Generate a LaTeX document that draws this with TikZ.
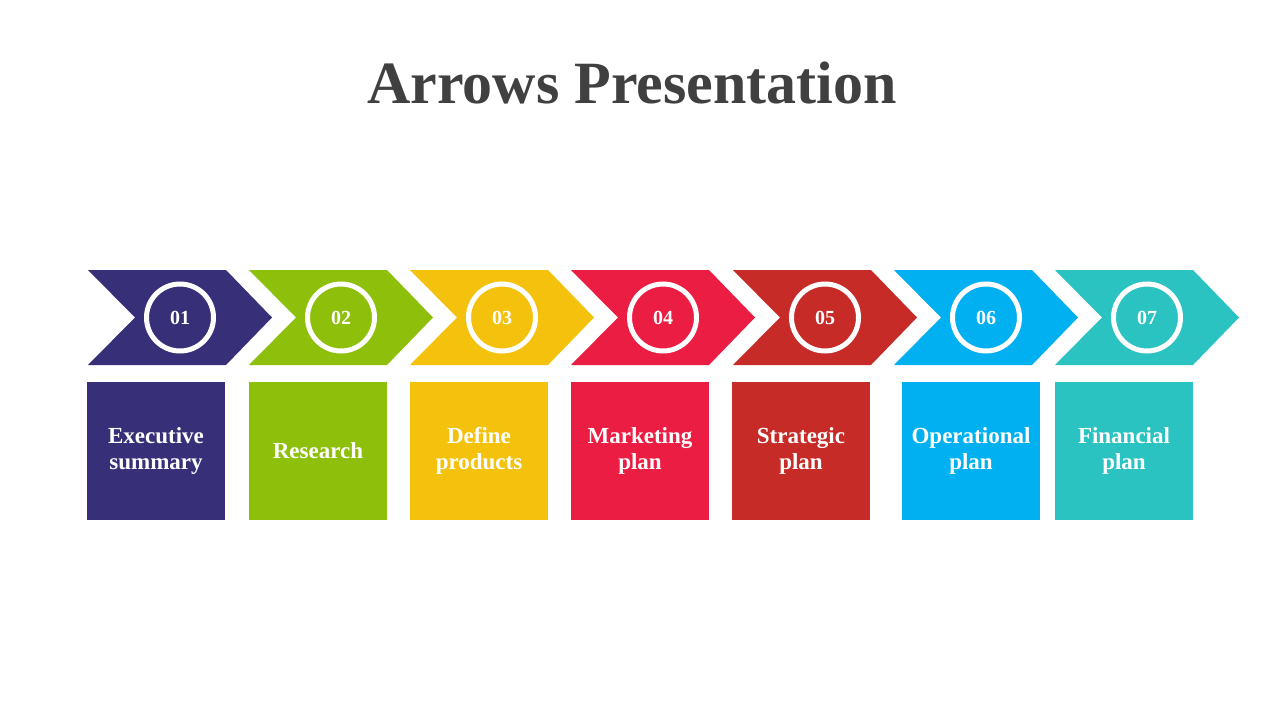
\documentclass[tikz,border=0pt]{standalone}
\usepackage{fontspec}
\setmainfont{Liberation Serif}
\definecolor{cA}{HTML}{372F78}
\definecolor{cB}{HTML}{8DBF0B}
\definecolor{cC}{HTML}{F4C20D}
\definecolor{cD}{HTML}{EC1D42}
\definecolor{cE}{HTML}{C62B27}
\definecolor{cF}{HTML}{00B0F0}
\definecolor{cG}{HTML}{2BC3C1}
\definecolor{titlegray}{HTML}{404040}
\tikzset{
  ring/.style={circle, draw=white, line width=5pt, minimum size=67pt, inner sep=0pt,
    text=white, font=\fontsize{20}{22}\selectfont\bfseries},
  infobox/.style={rectangle, minimum width=138pt, minimum height=138pt, inner sep=0pt,
    text=white, align=center, font=\fontsize{23}{26}\selectfont\bfseries},
}
\begin{document}
\begin{tikzpicture}[x=1pt,y=-1pt]
\fill[white] (0,0) rectangle (1280,720);
\useasboundingbox (0,0) rectangle (1280,720);
\node[text=titlegray, font=\fontsize{60}{70}\selectfont\bfseries, anchor=base] (title) at (632,103) {Arrows Presentation};
\foreach \l/\bx/\c/\n/\t [count=\i] in {
  88/156/cA/01/{Executive\\summary},
  249/318/cB/02/{Research},
  410/479/cC/03/{Define\\products},
  571/640/cD/04/{Marketing\\plan},
  733/801/cE/05/{Strategic\\plan},
  894/971/cF/06/{Operational\\plan},
  1055/1124/cG/07/{Financial\\plan}}{
  \fill[\c] (\l,270) -- ++(138,0) -- ++(46,47.5) -- ++(-46,47.5) -- ++(-138,0) -- ++(47,-47.5) -- cycle;
  \node[ring] (num\i) at (\l+92,317.5) {\n};
  \node[infobox, fill=\c] (box\i) at (\bx,451) {\t};
}
\end{tikzpicture}
\end{document}
